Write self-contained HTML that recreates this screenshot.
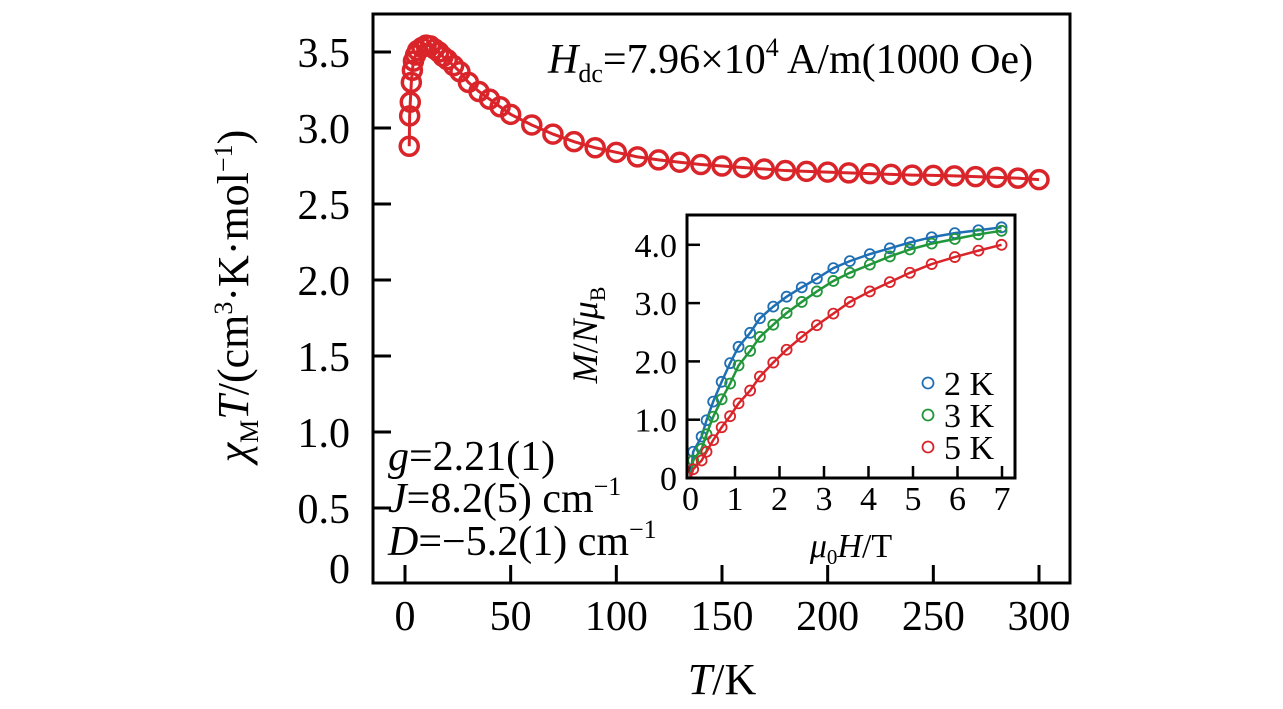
<!DOCTYPE html>
<html><head><meta charset="utf-8"><style>
html,body{margin:0;padding:0;background:#fff}
svg{display:block;font-family:"Liberation Serif",serif}
</style></head><body>
<svg id="chart" width="1283" height="709" viewBox="0 0 1283 709">
<g id="main"></g><g id="inset"></g>
<g transform="translate(248,296) rotate(-90)">
<text x="0" y="0" font-size="44" text-anchor="middle"><tspan font-style="italic">χ</tspan><tspan font-size="26" dy="10">M</tspan><tspan font-style="italic" dy="-10">T</tspan>/(cm<tspan font-size="26" dy="-16">3</tspan><tspan dy="16">·K·mol</tspan><tspan font-size="26" dy="-16">−1</tspan><tspan dy="16">)</tspan></text></g>
<text x="722" y="694" font-size="44" text-anchor="middle"><tspan font-style="italic">T</tspan>/K</text>
<text x="548" y="73" font-size="42"><tspan font-style="italic">H</tspan><tspan font-size="26" dy="9">dc</tspan><tspan dy="-9">=7.96×10</tspan><tspan font-size="26" dy="-17">4</tspan><tspan dy="17"> A/m(1000 Oe)</tspan></text>
<g font-size="42">
<text x="388" y="470"><tspan font-style="italic">g</tspan>=2.21(1)</text>
<text x="388" y="512"><tspan font-style="italic">J</tspan>=8.2(5) cm<tspan font-size="26" dy="-17">−1</tspan></text>
<text x="388" y="555"><tspan font-style="italic">D</tspan>=−5.2(1) cm<tspan font-size="26" dy="-17">−1</tspan></text>
</g>
<text transform="translate(597,335) rotate(-90)" font-size="36" text-anchor="middle"><tspan font-style="italic">M</tspan>/<tspan font-style="italic">Nμ</tspan><tspan font-size="22" dy="8">B</tspan></text>
<text x="851" y="557" font-size="34" text-anchor="middle"><tspan font-style="italic">μ</tspan><tspan font-size="21" dy="7">0</tspan><tspan font-style="italic" dy="-7">H</tspan>/T</text>
</svg>
<script>
const temps=[2,2.2,2.5,3,3.5,4,5,6,8,10,12,14,16,18,20,23,26,30,35,40,45,50,60,70,80,90,100,110,120,130,140,150,160,170,180,190,200,210,220,230,240,250,260,270,280,290,300];
const chiT=[2.88,3.08,3.17,3.3,3.38,3.44,3.48,3.51,3.53,3.545,3.54,3.52,3.5,3.47,3.45,3.41,3.37,3.3,3.24,3.19,3.14,3.09,3.02,2.96,2.91,2.87,2.84,2.81,2.79,2.775,2.76,2.75,2.74,2.73,2.72,2.715,2.71,2.705,2.7,2.695,2.69,2.688,2.685,2.68,2.675,2.67,2.66];
const xTicks=[0,50,100,150,200,250,300];
const yTicks=[0,0.5,1.0,1.5,2.0,2.5,3.0,3.5];
const yTickLabels=["0","0.5","1.0","1.5","2.0","2.5","3.0","3.5"];
const fields=[0.06,0.25,0.36,0.51,0.7,0.89,1.08,1.34,1.56,1.86,2.16,2.5,2.84,3.21,3.58,4.03,4.48,4.93,5.42,5.94,6.47,6.99];
const m2K=[0.45,0.71,0.99,1.31,1.65,1.97,2.25,2.49,2.74,2.94,3.11,3.27,3.42,3.6,3.72,3.84,3.94,4.04,4.13,4.2,4.25,4.3];
const m3K=[0.3,0.5,0.75,1.05,1.35,1.62,1.93,2.18,2.42,2.63,2.83,3.02,3.2,3.38,3.52,3.66,3.8,3.92,4.02,4.1,4.18,4.24];
const m5K=[0.15,0.3,0.45,0.65,0.87,1.06,1.28,1.5,1.74,1.98,2.2,2.42,2.62,2.82,3.02,3.2,3.36,3.52,3.67,3.79,3.9,4.0];
const insetXTicks=[0,1,2,3,4,5,6,7];
const insetYTicks=[0,1,2,3,4];
const insetYLabels=["0","1.0","2.0","3.0","4.0"];
const seriesNames=["2 K","3 K","5 K"];
const seriesColors=["#1f6fb4","#22963a","#d9242a"];

const NS="http://www.w3.org/2000/svg";
function mk(p,tag,at){const e=document.createElementNS(NS,tag);for(const k in at)e.setAttribute(k,at[k]);p.appendChild(e);return e;}
const RED="#d9242a";
const gm=document.getElementById('main');
const xs=t=>405+t*(634/300);
const ys=v=>584-v*152;
const frame=mk(gm,'rect',{x:373,y:14,width:697,height:569,fill:'none',stroke:'#000','stroke-width':3});


xTicks.forEach(t=>{
 const l=mk(gm,'line',{x1:xs(t),x2:xs(t),y1:583,y2:565,stroke:'#000','stroke-width':3});
 
 
 const tx=mk(gm,'text',{x:xs(t),y:630,'font-size':42,'text-anchor':'middle'});tx.textContent=t;
 
 
});
yTicks.forEach((v,i)=>{
 if(i>0){
 const l=mk(gm,'line',{x1:373,x2:391,y1:ys(v),y2:ys(v),stroke:'#000','stroke-width':3});
 
 
 }
 const ty=i===0?583:ys(v)+15;
 const tx=mk(gm,'text',{x:350,y:ty,'font-size':42,'text-anchor':'end'});tx.textContent=yTickLabels[i];
 
 
});
const fit=mk(gm,'polyline',{points:temps.map((t,i)=>xs(t)+','+ys(chiT[i])).join(' '),fill:'none',stroke:RED,'stroke-width':3});


temps.forEach((t,i)=>{
 const c=mk(gm,'circle',{cx:xs(t),cy:ys(chiT[i]),r:9,fill:'none',stroke:RED,'stroke-width':3.5});
 
 
});
const gi=document.getElementById('inset');
const ix=h=>690.5+h*44.5;
const iy=m=>478-m*58.3;
mk(gi,'rect',{x:687,y:215,width:328,height:263,fill:'#fff',stroke:'none'});
insetXTicks.forEach(t=>{
 const l=mk(gi,'line',{x1:ix(t),x2:ix(t),y1:478,y2:466,stroke:'#000','stroke-width':2.5});
 
 
 const tx=mk(gi,'text',{x:ix(t),y:510,'font-size':34,'text-anchor':'middle'});tx.textContent=t;
 
 
});
insetYTicks.forEach((v,i)=>{
 const l=mk(gi,'line',{x1:687,x2:700,y1:iy(v),y2:iy(v),stroke:'#000','stroke-width':2.5});
 
 
 const tx=mk(gi,'text',{x:677,y:iy(v)+12,'font-size':34,'text-anchor':'end'});tx.textContent=insetYLabels[i];
 
 
});
[m2K,m3K,m5K].forEach((arr,s)=>{
 const pl=mk(gi,'polyline',{points:'690.5,478 '+fields.map((h,i)=>ix(h)+','+iy(arr[i])).join(' '),fill:'none',stroke:seriesColors[s],'stroke-width':2.5});
 
 
 fields.forEach((h,i)=>{
  const c=mk(gi,'circle',{cx:ix(h),cy:iy(arr[i]),r:5,fill:'none',stroke:seriesColors[s],'stroke-width':1.8});
  
  
 });
 const lc=mk(gi,'circle',{cx:928,cy:383+s*32,r:5.5,fill:'none',stroke:seriesColors[s],'stroke-width':1.8});
 
 
 const lt=mk(gi,'text',{x:944,y:395+s*32,'font-size':34});lt.textContent=seriesNames[s];
 
 
});
const iframe=mk(gi,'rect',{x:687,y:215,width:328,height:263,fill:'none',stroke:'#000','stroke-width':3});


</script>
</body></html>
